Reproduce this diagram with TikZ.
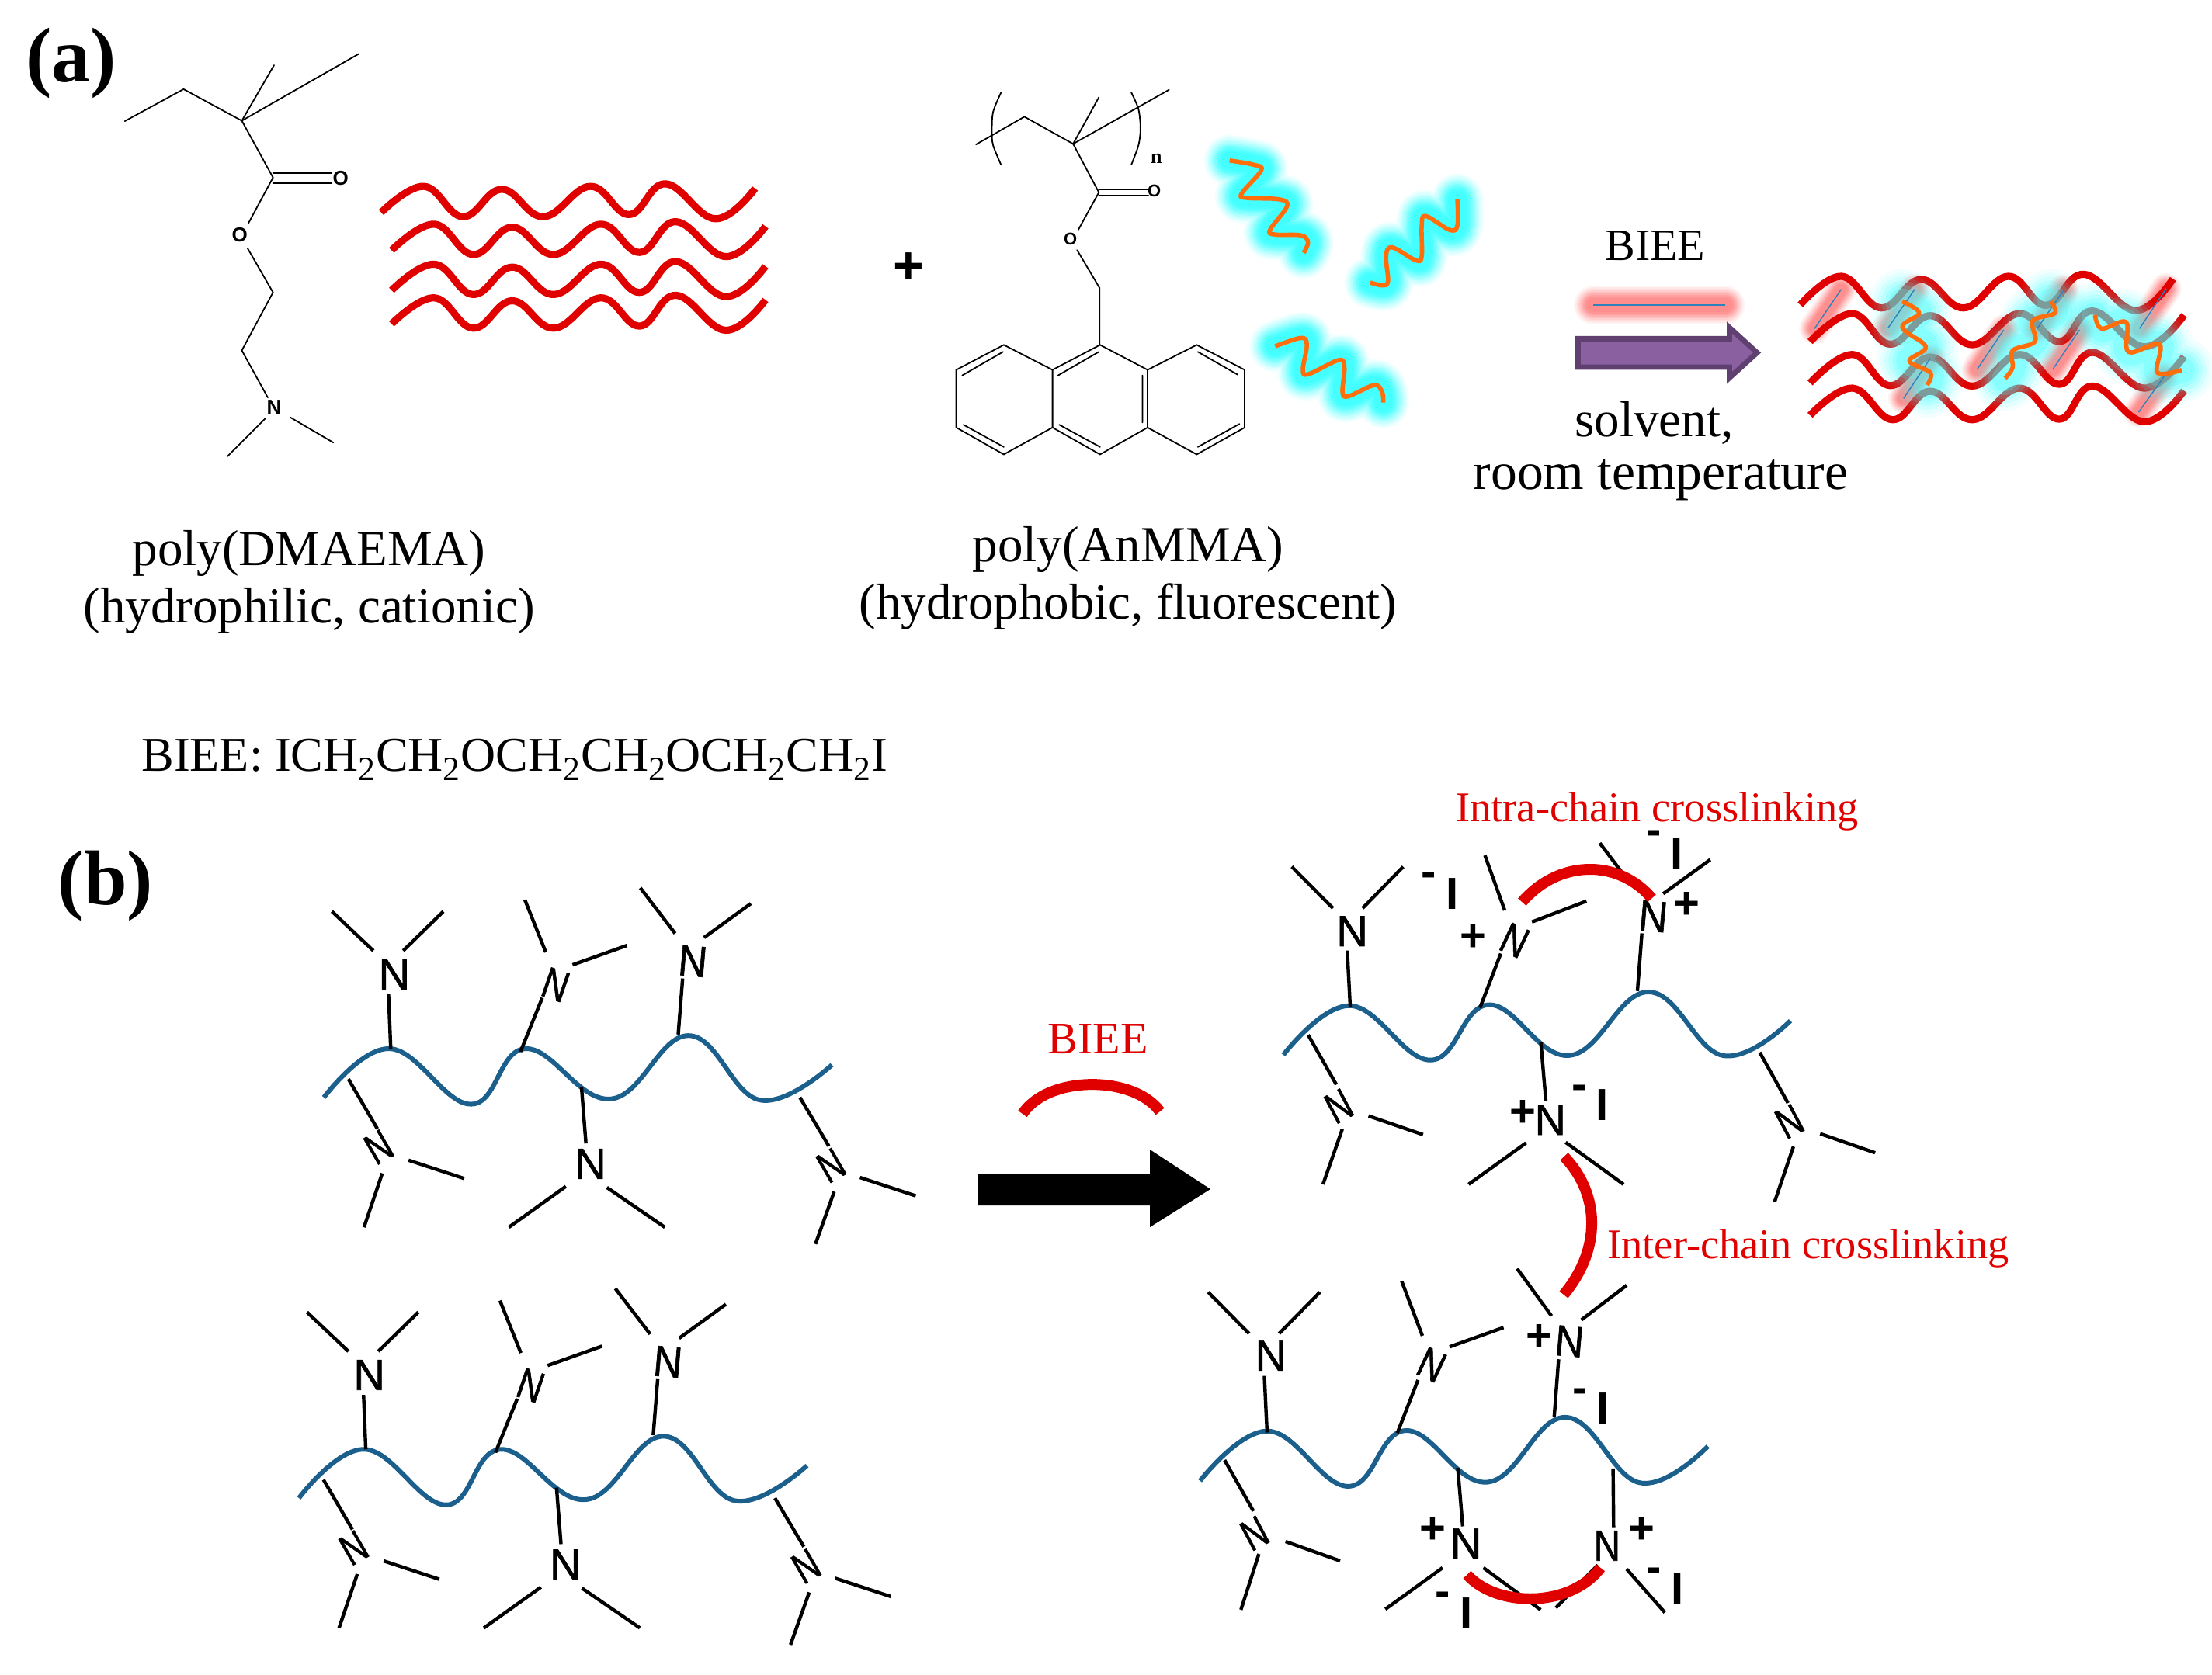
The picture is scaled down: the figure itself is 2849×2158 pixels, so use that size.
\documentclass[tikz,border=0pt]{standalone}
\usepackage{fontspec}
\setmainfont{Liberation Serif}
\newfontfamily\atomfont[FakeBold=1.2]{Liberation Sans}
\newfontfamily\chgfont{Liberation Sans Bold}
\definecolor{wred}{RGB}{225,0,0}
\definecolor{chainblue}{RGB}{27,95,140}
\definecolor{glowcyan}{RGB}{64,255,255}
\definecolor{glowpink}{RGB}{255,140,140}
\definecolor{sorange}{RGB}{255,110,10}
\definecolor{rodblue}{RGB}{45,130,190}
\definecolor{purplefill}{RGB}{138,96,160}
\definecolor{purpleedge}{RGB}{95,64,112}
\tikzset{
  thinbond/.style={line width=.9pt,black,line cap=round,line join=miter},
  bond/.style={line width=2.2pt,black},
  redwave/.style={line width=4.6pt,wred,line join=round},
  chainline/.style={line width=3pt,chainblue},
  squiggle/.style={line width=2.8pt,sorange,line join=round},
  linker/.style={line width=7pt,wred},
  atom/.style={inner sep=0pt,font=\atomfont\fontsize{28}{28}\selectfont},
  chg/.style={inner sep=0pt,font=\chgfont\fontsize{29}{29}\selectfont},
  body/.style={inner sep=0pt,font=\fontsize{32.5}{37}\selectfont,align=center},
  redlabel/.style={inner sep=0pt,font=\fontsize{27.2}{27.2}\selectfont,text=wred},
  panel/.style={inner sep=0pt,font=\bfseries\fontsize{50}{50}\selectfont},
  pics/barechain/.style={code={
    \draw[chainline] plot[smooth,tension=.7] coordinates{(117,465)(265,372)(447,478)(570,372)(760,468)(935,347)(1095,470)(1257,403)};
    \node[atom] (-n1) at (275,230) {N};
    \node[atom,rotate=-19,xscale=.8] (-n2) at (637,250) {N};
    \node[atom,rotate=-5,xscale=.92] (-n3) at (945,205) {N};
    \node[atom,rotate=30,xscale=.75] (-n4) at (240,560) {N};
    \node[atom] (-n5) at (715,592) {N};
    \node[atom,rotate=30,xscale=.75] (-n6) at (1255,595) {N};
    \draw[bond] (262,268)--(267,372) (228,185)--(135,110) (295,185)--(385,110);
    \draw[bond] (607,275)--(558,378) (615,188)--(568,88) (675,212)--(797,175);
    \draw[bond] (922,238)--(912,345) (905,152)--(827,65) (970,160)--(1075,95);
    \draw[bond] (172,430)--(237,525) (307,585)--(432,620) (248,610)--(207,713);
    \draw[bond] (695,445)--(705,553) (660,635)--(532,713) (752,637)--(882,713);
    \draw[bond] (1185,465)--(1250,558) (1320,618)--(1445,653) (1262,645)--(1220,745);
  }}
}
\newcommand{\myglow}[3]{%
  \foreach \f/\o in {1/.08,.92/.1,.84/.13,.76/.17,.68/.22,.6/.3,.52/.4,.44/.55,.36/.7}{%
    \draw[#1,line width={#2*\f},opacity=\o,line cap=round,line join=round] #3;%
  }}
\begin{document}
\begin{tikzpicture}[x=.5pt,y=-.5pt]
\useasboundingbox (0,0) rectangle (2849,2158);
\fill[white] (0,0) rectangle (2849,2158);

% ---------- panel (a), left monomer ----------
\node[panel] (pa) at (92,81) {(a)};
\begin{scope}[shift={(0,0)},x=.3349pt,y=-.2710pt]
  \draw[thinbond] (240,288)--(353,212)--(465,287)--(527,155);
  \draw[thinbond] (465,287)--(690,128);
  \draw[thinbond] (465,287)--(525,422)--(478,530);
  \draw[thinbond] (525,412)--(638,412) (525,436)--(638,436);
  \node[chg,font=\chgfont\fontsize{13}{13}\selectfont] (o1) at (655,423) {O};
  \node[chg,font=\chgfont\fontsize{13}{13}\selectfont] (o2) at (461,558) {O};
  \node[chg,font=\chgfont\fontsize{13}{13}\selectfont] (nm) at (527,968) {N};
  \draw[thinbond] (476,590)--(525,695)--(465,833)--(515,945);
  \draw[thinbond] (558,992)--(641,1052) (510,995)--(437,1085);
  \def\wavepath{plot[smooth,tension=.7] coordinates{(733,505)(815,443)(890,515)(965,450)(1045,515)(1135,443)(1210,510)(1280,437)(1375,520)(1452,448)}}
  \foreach \dx/\dy in {0/0,20/90,20/185,20/265}{
    \begin{scope}[shift={(\dx,\dy)}]
      \draw[redwave] \wavepath;
    \end{scope}
  }
\end{scope}
\node[body] (lab1) at (398,750) {poly(DMAEMA)\\(hydrophilic, cationic)};

% ---------- panel (a), right monomer ----------
\node[inner sep=0pt,font=\chgfont\fontsize{34}{34}\selectfont] (plus) at (1170,346) {+};
\begin{scope}[shift={(1150,80)},x=.2551pt,y=-.1786pt]
  \draw[thinbond] (210,297)--(332,197)--(455,295)--(520,127);
  \draw[thinbond] (455,295)--(697,100);
  \draw[thinbond] (455,295)--(520,470)--(468,605);
  \draw[thinbond] (520,458)--(645,458) (520,482)--(645,482);
  \node[chg,font=\chgfont\fontsize{11}{11}\selectfont] (o3) at (660,465) {O};
  \node[chg,font=\chgfont\fontsize{11}{11}\selectfont] (o4) at (448,638) {O};
  \node[chg,font=\fontsize{13}{13}\selectfont\bfseries] (nn) at (665,348) {n};
  \draw[thinbond] (465,678)--(522,815)--(522,1020);
  \draw[thinbond] plot[smooth] coordinates{(273,110)(253,180)(250,250)(253,300)(273,370)};
  \draw[thinbond] plot[smooth] coordinates{(602,110)(620,170)(625,240)(620,300)(602,370)};
  \draw[thinbond] (160,1110)--(280,1020)--(403,1110)--(403,1318)--(280,1415)--(160,1318)--cycle;
  \draw[thinbond] (403,1110)--(523,1020)--(643,1110)--(643,1318)--(523,1415)--(403,1318);
  \draw[thinbond] (643,1110)--(767,1020)--(888,1110)--(888,1318)--(767,1415)--(643,1318);
  \draw[thinbond] (175,1130)--(278,1045) (178,1308)--(280,1388) (417,1130)--(520,1045)
     (630,1130)--(630,1300) (420,1308)--(523,1388) (770,1045)--(870,1127) (770,1388)--(875,1305);
  \def\sa{plot[smooth,tension=.6] coordinates{(850,355)(910,370)(930,390)(880,475)(895,490)(975,495)(995,520)(952,605)(965,622)(1030,625)(1048,650)(1037,688)}}
  \def\sb{plot[smooth,tension=.6] coordinates{(1425,495)(1425,590)(1405,605)(1345,555)(1335,590)(1335,700)(1320,715)(1260,668)(1245,700)(1250,790)(1235,805)(1205,795)}}
  \def\sc{plot[smooth,tension=.6] coordinates{(965,1025)(1030,995)(1045,1020)(1035,1110)(1050,1125)(1125,1075)(1140,1100)(1135,1190)(1150,1205)(1215,1165)(1235,1190)(1238,1228)}}
  \myglow{glowcyan}{33pt}{\sa}
  \myglow{glowcyan}{33pt}{\sb}
  \myglow{glowcyan}{33pt}{\sc}
  \draw[squiggle] \sa; \draw[squiggle] \sb; \draw[squiggle] \sc;
\end{scope}
\node[body] (lab2) at (1453,745) {poly(AnMMA)\\(hydrophobic, fluorescent)};

% ---------- panel (a), reaction ----------
\begin{scope}[shift={(1950,250)},x=.2867pt,y=-.1667pt]
  \node[inner sep=0pt,font=\fontsize{29}{29}\selectfont] (biee1) at (317,200) {BIEE};
  \coordinate (rodl) at (178,430); \coordinate (rodr) at (475,430);
  \myglow{glowpink}{25pt}{(rodl)--(rodr)}
  \draw[line width=1.1pt,rodblue] (rodl)--(rodr);
  \draw[line width=3.4pt,purpleedge,fill=purplefill,line join=miter]
    (144,559)--(484,559)--(484,516)--(546,613)--(484,710)--(484,669)--(144,669)--cycle;
  \node[body] (solv) at (315,886) {solvent,};
  \foreach \a/\b/\c/\d in {735/368/675/520,900/368/840/518,1235/370/1175/520,1465/365/1405/520,1100/525/1040/678,1270/525/1210/678,935/635/875/790,1460/705/1403/843}{
    \myglow{glowpink}{20pt}{(\a,\b)--(\c,\d)}
  }
  \draw[redwave] plot[smooth,tension=.7] coordinates{(643,428)(735,318)(825,440)(915,330)(1010,440)(1110,318)(1195,430)(1280,310)(1395,450)(1480,328)};
  \draw[redwave] plot[smooth,tension=.7] coordinates{(665,570)(760,462)(845,580)(935,470)(1030,582)(1135,462)(1225,570)(1300,452)(1415,590)(1505,468)};
  \draw[redwave] plot[smooth,tension=.7] coordinates{(665,730)(760,620)(845,740)(935,630)(1030,742)(1135,620)(1225,735)(1300,612)(1415,750)(1505,628)};
  \draw[redwave] plot[smooth,tension=.7] coordinates{(665,855)(760,750)(850,872)(935,762)(1030,872)(1135,750)(1225,870)(1300,742)(1415,880)(1505,760)};
  \def\oa{plot[smooth,tension=.6] coordinates{(872,415)(910,460)(872,515)(925,590)(888,645)(935,690)(928,738)}}
  \def\ob{plot[smooth,tension=.6] coordinates{(1205,415)(1215,460)(1165,490)(1170,570)(1120,605)(1120,670)(1103,712)}}
  \def\oc{plot[smooth,tension=.6] coordinates{(1305,468)(1320,520)(1375,495)(1380,610)(1450,580)(1445,690)(1500,680)}}
  \foreach \f/\o in {1/.06,.88/.08,.76/.12,.64/.16,.52/.2,.4/.25}{
    \draw[glowcyan,line width={42pt*\f},opacity=\o,line cap=round,line join=round] \oa;
    \draw[glowcyan,line width={42pt*\f},opacity=\o,line cap=round,line join=round] \ob;
    \draw[glowcyan,line width={42pt*\f},opacity=\o,line cap=round,line join=round] \oc;
  }
  \foreach \a/\b/\c/\d in {735/368/675/520,900/368/840/518,1235/370/1175/520,1465/365/1405/520,1100/525/1040/678,1270/525/1210/678,935/635/875/790,1460/705/1403/843}{
    \draw[line width=.7pt,rodblue] (\a,\b)--(\c,\d);
  }
  \draw[squiggle] \oa; \draw[squiggle] \ob; \draw[squiggle] \oc;
\end{scope}
\node[body,font=\fontsize{33.8}{37}\selectfont] (rt) at (2139,619) {room temperature};

\node[body,font=\fontsize{31.2}{35}\selectfont,anchor=west] (formula) at (182,979) {BIEE: ICH\textsubscript{2}CH\textsubscript{2}OCH\textsubscript{2}CH\textsubscript{2}OCH\textsubscript{2}CH\textsubscript{2}I};

% ---------- panel (b) ----------
\node[panel] (pb) at (136,1141) {(b)};
\begin{scope}[shift={(350,1100)},x=.2870pt,y=-.3374pt]
  \pic (upper) at (0,0) {barechain};
  \pic (lower) at (-56,765) {barechain};
\end{scope}

\fill[black] (1259,1512)--(1481,1512)--(1481,1481)--(1559,1532)--(1481,1581)--(1481,1553)--(1259,1553)--cycle;
\node[redlabel,font=\fontsize{29}{29}\selectfont] (biee2) at (1414,1339) {BIEE};
\draw[linker] (1317,1435) .. controls (1350,1385) and (1460,1385) .. (1494,1432);

% upper right chain
\begin{scope}[shift={(1600,1000)},x=.3189pt,y=-.1977pt]
  \node[redlabel] (intra) at (838,116) {Intra-chain crosslinking};
  \draw[chainline] plot[smooth,tension=.7] coordinates{(83,908)(218,748)(380,925)(498,745)(660,910)(820,703)(970,910)(1107,797)};
  \node[atom] (u1) at (222,505) {N};
  \node[atom,rotate=-25,xscale=.8] (u2) at (550,535) {N};
  \node[atom,rotate=-5,xscale=.92] (u3) at (830,457) {N};
  \node[atom,rotate=28,xscale=.75] (u4) at (195,1075) {N};
  \node[atom] (u5) at (622,1120) {N};
  \node[atom,rotate=28,xscale=.75] (u6) at (1105,1125) {N};
  \draw[bond] (212,568)--(218,752) (183,430)--(100,295) (243,430)--(325,295);
  \draw[bond] (522,578)--(480,755) (530,437)--(490,258) (585,475)--(695,407);
  \draw[bond] (807,512)--(798,700) (765,310)--(722,218) (850,383)--(945,272);
  \draw[bond] (133,843)--(190,1005) (255,1107)--(365,1168) (202,1150)--(163,1330);
  \draw[bond] (603,868)--(613,1057) (573,1195)--(457,1330) (653,1193)--(770,1330);
  \draw[bond] (1045,900)--(1102,1065) (1167,1165)--(1278,1227) (1113,1207)--(1075,1387);
  \node[chg] (p1) at (467,528) {+};
  \node[chg] (p2) at (897,420) {+};
  \node[chg] (p3) at (567,1100) {+};
  \node[chg] (m1) at (377,336) {-};
  \node[chg] (i1) at (424,382) {I};
  \node[chg] (m2) at (831,200) {-};
  \node[chg] (i2) at (878,252) {I};
  \node[chg] (m3) at (681,1030) {-};
  \node[chg] (i3) at (727,1070) {I};
  \draw[linker] (565,410) .. controls (640,270) and (760,270) .. (827,398);
\end{scope}

\node[redlabel] (inter) at (2329,1608) {Inter-chain crosslinking};
\draw[linker] (2014.5,1490) .. controls (2062,1540) and (2062,1610) .. (2014,1668);

% lower right chain
\begin{scope}[shift={(1500,1600)},x=.3509pt,y=-.1779pt]
  \draw[chainline] plot[smooth,tension=.7] coordinates{(65,865)(190,685)(337,885)(443,683)(592,870)(735,635)(872,872)(997,740)};
  \node[atom] (v1) at (195,412) {N};
  \node[atom,rotate=-25,xscale=.8] (v2) at (490,445) {N};
  \node[atom,rotate=-5,xscale=.92] (v3) at (743,360) {N};
  \node[atom,rotate=28,xscale=.75] (v4) at (165,1055) {N};
  \node[atom] (v5) at (553,1092) {N};
  \node[atom,xscale=.85] (v6) at (812,1100) {N};
  \draw[bond] (183,485)--(188,690) (155,332)--(80,182) (210,332)--(285,182);
  \draw[bond] (465,500)--(427,692) (473,340)--(435,142) (523,380)--(622,310);
  \draw[bond] (723,425)--(715,632) (710,268)--(647,97) (765,282)--(848,157);
  \draw[bond] (110,790)--(163,975) (222,1085)--(322,1155) (173,1130)--(140,1332);
  \draw[bond] (538,818)--(547,1030) (510,1180)--(405,1330) (585,1180)--(690,1332);
  \draw[bond] (823,820)--(824,1033) (795,1170)--(718,1325) (848,1185)--(918,1342);
  \node[chg] (q1) at (687,347) {+};
  \node[chg] (q2) at (492,1045) {+};
  \node[chg] (q3) at (875,1045) {+};
  \node[chg] (r1) at (762,558) {-};
  \node[chg] (j1) at (804,603) {I};
  \node[chg] (r2) at (510,1293) {-};
  \node[chg] (j2) at (553,1345) {I};
  \node[chg] (r3) at (898,1205) {-};
  \node[chg] (j3) at (941,1255) {I};
  \draw[linker] (555,1205) .. controls (610,1325) and (745,1325) .. (800,1180);
\end{scope}
\end{tikzpicture}
\end{document}
